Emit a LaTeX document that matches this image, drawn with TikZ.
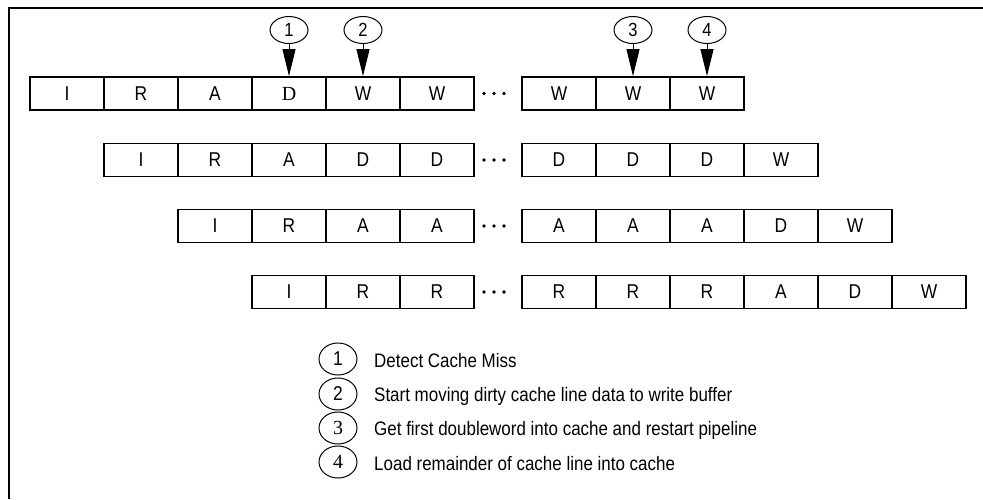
\documentclass[tikz,border=0pt]{standalone}
\usepackage{fontspec}
\setmainfont{Liberation Sans}[FakeStretch=0.87]
\newfontfamily\serifnum{Liberation Serif}
\usetikzlibrary{arrows.meta,positioning,shapes.geometric}

\begin{document}
\begin{tikzpicture}[x=1pt,y=-1pt,
  cell/.style={draw,line width=1.8pt,minimum width=74pt,minimum height=33pt,inner sep=0pt,font=\fontsize{20}{20}\selectfont},
  mark1/.style={draw,ellipse,line width=1pt,minimum width=38pt,minimum height=27pt,inner sep=0pt,font=\fontsize{19}{19}\selectfont},
  mark2/.style={draw,ellipse,line width=1pt,minimum width=38pt,minimum height=32pt,inner sep=0pt,font=\fontsize{20}{20}\selectfont},
  hit/.style={line width=1pt,-{Triangle[length=27pt,width=13pt]}},
  legend/.style={anchor=west,inner sep=0pt,font=\fontsize{19.5}{19.5}\selectfont}]
\useasboundingbox (0,0) rectangle (983,499);
% frame
\draw[line width=2pt] (9,499) -- (9,7.7) -- (983,7.7);
% pipeline rows
\foreach \t [count=\i] in {I,R,A,{\serifnum D},W,W}
  \node[cell] (c1-\i) at (30+74*\i-37,93.5) {\t};
\foreach \t [count=\i] in {W,W,W}
  \node[cell] (d1-\i) at (522+74*\i-37,93.5) {\t};
\foreach \t [count=\i] in {I,R,A,D,D}
  \node[cell] (c2-\i) at (104+74*\i-37,160) {\t};
\foreach \t [count=\i] in {D,D,D,W}
  \node[cell] (d2-\i) at (522+74*\i-37,160) {\t};
\foreach \t [count=\i] in {I,R,A,A}
  \node[cell] (c3-\i) at (178+74*\i-37,226) {\t};
\foreach \t [count=\i] in {A,A,A,D,W}
  \node[cell] (d3-\i) at (522+74*\i-37,226) {\t};
\foreach \t [count=\i] in {I,R,R}
  \node[cell] (c4-\i) at (252+74*\i-37,292) {\t};
\foreach \t [count=\i] in {R,R,R,A,D,W}
  \node[cell] (d4-\i) at (522+74*\i-37,292) {\t};
% dots between the halves
\foreach \y in {93.5,160,226,292}
  \foreach \x in {484,494,504}
    \fill (\x,\y) circle (1.8pt);
% markers
\node[mark1] (n1) at (289,30) {1};
\node[mark1] (n2) at (363,30) {2};
\node[mark1] (n3) at (633,30) {3};
\node[mark1] (n4) at (707,30) {4};
\draw[hit] (n1.south) -- (c1-4.north);
\draw[hit] (n2.south) -- (c1-5.north);
\draw[hit] (n3.south) -- (d1-2.north);
\draw[hit] (n4.south) -- (d1-3.north);
% legend
\node[mark2] (l1) at (338,359) {1};
\node[mark2] (l2) at (338,394) {2};
\node[mark2] (l3) at (338,428) {{\serifnum 3}};
\node[mark2] (l4) at (338,462) {{\serifnum 4}};
\node[legend] (t1) at (374,361) {Detect Cache Miss};
\node[legend] (t2) at (374,396) {Start moving dirty cache line data to write buffer};
\node[legend] (t3) at (374,430) {Get first doubleword into cache and restart pipeline};
\node[legend] (t4) at (374,464) {Load remainder of cache line into cache};
\end{tikzpicture}
\end{document}
